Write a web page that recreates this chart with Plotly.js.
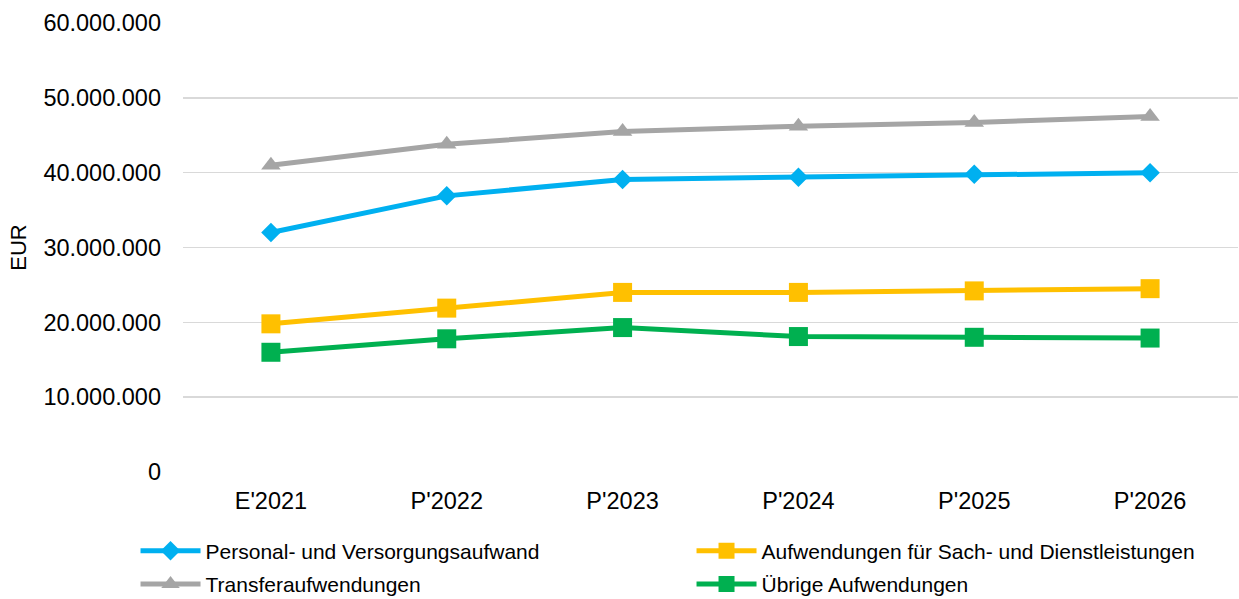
<!DOCTYPE html>
<html>
<head>
<meta charset="utf-8">
<script src="https://cdn.plot.ly/plotly-3.0.1.min.js"></script>
<style>html,body{margin:0;padding:0;background:#fff;}#chart{width:1239px;height:599px;}</style>
</head>
<body>
<div id="chart"></div>
<script>
const categories = ["E'2021", "P'2022", "P'2023", "P'2024", "P'2025", "P'2026"];
const personal = [32000000, 36900000, 39100000, 39400000, 39800000, 40000000];
const sachDienst = [19800000, 21900000, 24000000, 24000000, 24200000, 24500000];
const transfer = [41000000, 43800000, 45500000, 46200000, 46700000, 47500000];
const uebrige = [16000000, 17800000, 19300000, 18100000, 18000000, 17900000];
const names = ["Personal- und Versorgungsaufwand", "Aufwendungen für Sach- und Dienstleistungen", "Transferaufwendungen", "Übrige Aufwendungen"];
const yTicks = [0, 10000000, 20000000, 30000000, 40000000, 50000000, 60000000];

const font = "Liberation Sans, Arial, sans-serif";
function tr(y, name, color, symbol, size, legend) {
  return {
    x: categories, y: y, name: name, type: 'scatter', mode: 'lines+markers',
    line: {color: color, width: 5},
    marker: {color: color, symbol: symbol, size: size},
    legend: legend
  };
}
const data = [
  tr(personal, names[0], '#00B0F0', 'diamond', 15, 'legend'),
  tr(sachDienst, names[1], '#FFC000', 'square', 19, 'legend'),
  tr(transfer, names[2], '#A5A5A5', 'triangle-up', 17, 'legend2'),
  tr(uebrige, names[3], '#00B050', 'square', 19, 'legend2')
];
const legCommon = {
  orientation: 'h', xanchor: 'left', yanchor: 'middle',
  entrywidth: 481, entrywidthmode: 'pixels',
  font: {family: font, size: 21, color: '#000'},
  itemwidth: 60, bgcolor: 'rgba(0,0,0,0)'
};
const layout = {
  width: 1239, height: 599,
  margin: {l: 183, r: 1, t: 23, b: 127, autoexpand: false},
  paper_bgcolor: '#fff', plot_bgcolor: '#fff',
  separators: ',.',
  font: {family: font, size: 22, color: '#000'},
  showlegend: true,
  xaxis: {
    type: 'category', range: [-0.5, 5.5], showgrid: false, zeroline: false,
    showline: false, ticks: '', tickfont: {family: font, size: 23.5, color: '#000'},
    ticklabelstandoff: 12
  },
  yaxis: {
    range: [0, 60000000], tickvals: yTicks, tickformat: ',d',
    showgrid: true, gridcolor: '#D9D9D9', gridwidth: 1.5, zeroline: false,
    showline: false, ticks: '', tickfont: {family: font, size: 23.5, color: '#000'},
    ticklabelstandoff: 21,
    title: {text: 'EUR', font: {family: font, size: 22, color: '#000'}, standoff: 10}
  },
  legend: Object.assign({x: -0.045, y: -0.176}, legCommon),
  legend2: Object.assign({x: -0.045, y: -0.25}, legCommon)
};
Plotly.newPlot('chart', data, layout, {displayModeBar: false, staticPlot: true});
</script>
</body>
</html>
